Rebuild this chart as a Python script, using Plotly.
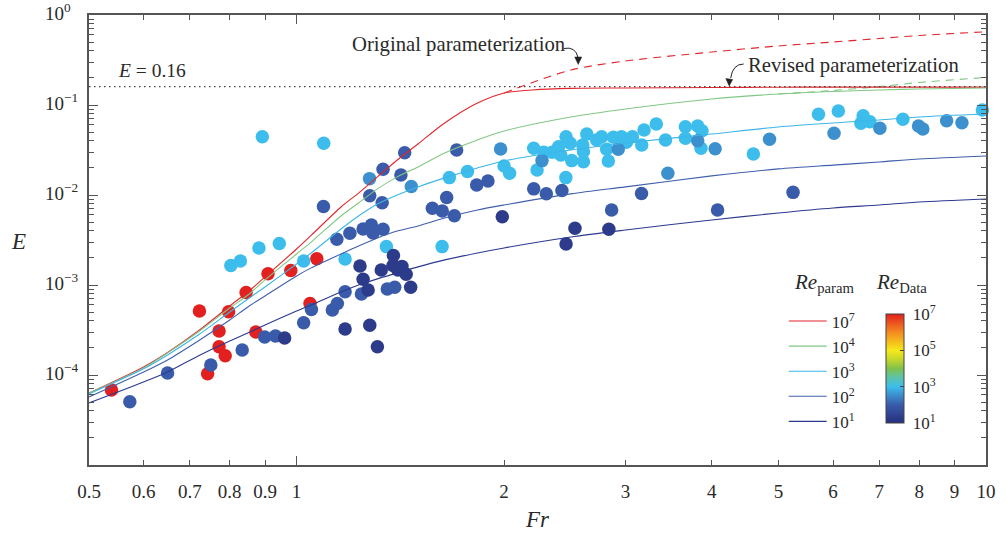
import numpy as np
import plotly.graph_objects as go

# ---------------- data ----------------
# model curves (Re_param)
curve_fr = [0.5, 0.6, 0.65, 0.72, 0.8, 0.85, 0.9, 1.0, 1.05, 1.16, 1.23, 1.31, 1.4, 1.5,
            1.64, 1.83, 2.0, 2.5, 3, 4, 5, 6, 7, 8, 10]
green_E = [6.31e-5, 1.20e-4, 1.76e-4, 3.0e-4, 5.55e-4, 7.74e-4, 1.14e-3, 2.21e-3, 3.0e-3,
           5.85e-3, 8.15e-3, 1.17e-2, 1.59e-2, 2.05e-2, 2.93e-2, 4.09e-2, 5.14e-2, 7.36e-2,
           9.03e-2, 0.1166, 0.1325, 0.1413, 0.1468, 0.1506, 0.1545]
cyan_E = [6.15e-5, 1.17e-4, 1.67e-4, 2.78e-4, 5.01e-4, 6.99e-4, 9.5e-4, 1.71e-3, 2.27e-3,
          4.19e-3, 5.85e-3, 7.94e-3, 1.0e-2, 1.23e-2, 1.55e-2, 2.0e-2, 2.39e-2, 3.16e-2,
          3.78e-2, 4.76e-2, 5.7e-2, 6.31e-2, 6.81e-2, 7.36e-2, 7.94e-2]
blue_E = [5.7e-5, 1.08e-4, 1.47e-4, 2.39e-4, 4.08e-4, 5.7e-4, 7.55e-4, 1.26e-3, 1.55e-3,
          2.21e-3, 2.71e-3, 3.33e-3, 3.98e-3, 4.53e-3, 5.55e-3, 6.81e-3, 7.74e-3, 1.03e-2,
          1.23e-2, 1.63e-2, 1.95e-2, 2.15e-2, 2.33e-2, 2.51e-2, 2.71e-2]
navy_E = [4.89e-5, 8.36e-5, 1.08e-4, 1.63e-4, 2.39e-4, 2.93e-4, 3.59e-4, 5.14e-4, 6.0e-4,
          8.36e-4, 1.0e-3, 1.17e-3, 1.36e-3, 1.59e-3, 1.9e-3, 2.27e-3, 2.58e-3, 3.41e-3,
          4.08e-3, 5.28e-3, 6.31e-3, 7.17e-3, 7.74e-3, 8.36e-3, 9.03e-3]

red_fr = [0.5, 0.6, 0.65, 0.72, 0.8, 0.85, 0.9, 1.0, 1.05, 1.16, 1.23, 1.31, 1.4, 1.5,
          1.64, 1.83, 2.0, 2.2, 2.5, 3, 4, 5, 6, 7, 8, 10]
red_E = [6.31e-5, 1.23e-4, 1.78e-4, 3.08e-4, 5.85e-4, 8.36e-4, 1.23e-3, 2.51e-3, 3.56e-3,
         7.36e-3, 1.05e-2, 1.59e-2, 2.45e-2, 3.69e-2, 6.31e-2, 0.105, 0.136, 0.147, 0.153,
         0.1545, 0.1565, 0.1575, 0.158, 0.158, 0.158, 0.158]

# original (uncapped) parameterization, dashed
red_orig_fr = [2.0, 2.5, 3, 4, 5, 6, 7, 8, 10]
red_orig_E = [0.136, 0.245, 0.308, 0.388, 0.453, 0.501, 0.548, 0.592, 0.652]
green_orig_fr = [5, 6, 7, 8, 10]
green_orig_E = [0.1325, 0.145, 0.16, 0.178, 0.202]

E_cap = 0.16

# experimental data, grouped by log10(Re_Data)
red_pts_fr = [0.539, 0.723, 0.797, 0.772, 0.772, 0.788, 0.743, 0.845, 0.873, 0.909, 0.981, 1.070, 1.046]
red_pts_E = [6.81e-5, 5.14e-4, 5.05e-4, 3.08e-4, 2.06e-4, 1.64e-4, 1.03e-4, 8.26e-4, 3.0e-4,
             1.33e-3, 1.45e-3, 1.96e-3, 6.23e-4]

cyan_pts_fr = [0.803, 0.829, 0.882, 0.944, 0.892, 1.095, 1.024, 1.176, 1.350, 1.626, 1.666, 1.770,
               2.0, 2.037, 2.208, 2.233, 2.283, 2.347, 2.399, 2.417, 2.460, 2.494, 2.507, 2.607,
               2.601, 2.636, 2.607, 2.458, 2.725, 2.770, 2.817, 2.833, 2.881, 2.960, 3.009, 3.070,
               3.167, 3.192, 3.325, 3.429, 3.664, 3.664, 3.818, 3.873, 3.860, 4.598, 5.715, 6.107,
               6.635, 6.585, 6.785, 7.576, 9.88]
cyan_pts_E = [1.65e-3, 1.85e-3, 2.58e-3, 2.89e-3, 0.0445, 0.0375, 1.85e-3, 1.95e-3, 2.67e-3, 2.67e-3,
              0.0156, 0.0182, 0.0210, 0.0174, 0.0330, 0.0190, 0.0298, 0.0298, 0.0344, 0.0278,
              0.0445, 0.0375, 0.0241, 0.0234, 0.0360, 0.0476, 0.0303, 0.0156, 0.0409, 0.0445,
              0.0322, 0.0239, 0.0438, 0.0445, 0.0385, 0.0445, 0.0360, 0.0528, 0.0615, 0.0409,
              0.0574, 0.0427, 0.0585, 0.0518, 0.0330, 0.0286, 0.0788, 0.0858, 0.0760, 0.0626,
              0.0652, 0.0694, 0.0880]

mid_pts_fr = [1.276, 1.467, 1.977, 2.270, 2.928, 3.818, 4.047, 4.853, 3.456, 6.02, 7.016, 7.983,
              8.098, 8.768, 9.228]
mid_pts_E = [0.0152, 0.0124, 0.0325, 0.0241, 0.0322, 0.0401, 0.0327, 0.0416, 0.0174, 0.0485,
             0.0551, 0.0585, 0.0541, 0.0670, 0.0636]

blue_pts_fr = [0.573, 0.650, 0.751, 0.834, 0.899, 0.932, 1.051, 1.024, 1.127, 1.146, 1.094, 1.144,
               1.195, 1.249, 1.284, 1.291, 1.335, 1.277, 1.331, 1.335, 1.417, 1.435, 1.242, 1.176,
               1.354, 1.388, 1.574, 1.627, 1.694, 1.651, 1.707, 1.825, 1.895, 2.208, 2.303, 2.426,
               3.165, 2.864, 4.080, 5.250]
blue_pts_E = [5.05e-5, 1.05e-4, 1.29e-4, 1.90e-4, 2.64e-4, 2.71e-4, 5.34e-4, 3.81e-4, 5.27e-4,
              6.23e-4, 7.45e-3, 3.22e-3, 3.75e-3, 4.19e-3, 4.64e-3, 3.78e-3, 4.17e-3, 9.82e-3,
              8.2e-3, 0.0193, 0.0167, 0.0295, 7.94e-4, 8.43e-4, 9.03e-4, 9.42e-4, 7.11e-3,
              6.64e-3, 5.89e-3, 9.38e-3, 0.0316, 0.0129, 0.0143, 0.0117, 0.0103, 0.0112,
              0.0104, 6.81e-3, 6.81e-3, 0.0107]

navy_pts_fr = [0.961, 1.176, 1.277, 1.310, 1.236, 1.382, 1.327, 1.380, 1.422, 1.403, 1.442, 1.249,
               1.270, 1.464, 1.988, 2.534, 2.838, 2.460]
navy_pts_E = [2.58e-4, 3.24e-4, 3.57e-4, 2.06e-4, 1.63e-3, 2.13e-3, 1.47e-3, 1.65e-3, 1.61e-3,
              1.47e-3, 1.32e-3, 1.16e-3, 8.8e-4, 9.42e-4, 5.74e-3, 4.27e-3, 4.16e-3, 2.86e-3]

# log10(Re_Data) of each group
logRe_groups = [7.0, 3.0, 2.55, 2.0, 1.3]

x_tick_vals = [0.5, 0.6, 0.7, 0.8, 0.9, 1, 2, 3, 4, 5, 6, 7, 8, 9, 10]
x_tick_text = ["0.5", "0.6", "0.7", "0.8", "0.9", "1", "2", "3", "4", "5", "6", "7", "8", "9", "10"]
y_decades = [1e-4, 1e-3, 1e-2, 1e-1, 1]
y_tick_text = ["10<sup>\u22124</sup>", "10<sup>\u22123</sup>", "10<sup>\u22122</sup>",
               "10<sup>\u22121</sup>", "10<sup>0</sup>"]
legend_labels = ["10<sup>7</sup>", "10<sup>4</sup>", "10<sup>3</sup>", "10<sup>2</sup>", "10<sup>1</sup>"]
cbar_vals = [1, 3, 5, 7]
cbar_text = [" 10<sup>1</sup>", " 10<sup>3</sup>", " 10<sup>5</sup>", " 10<sup>7</sup>"]

# ---------------- styling ----------------
FONT = "Liberation Serif, Times New Roman, serif"
TXT = "#2a2a2a"
AX = "#555555"
C_RED = "#E2262C"
C_GREEN = "#80C883"
C_CYAN = "#3CB6E8"
C_BLUE = "#3F5EAC"
C_NAVY = "#2C3990"

jet = [
    [0.0, "#262F7E"],
    [0.1667, "#3A5BAA"],
    [0.25, "#3D8BCB"],
    [0.3333, "#3CBDEC"],
    [0.42, "#5EC3A6"],
    [0.5, "#7EC24A"],
    [0.58, "#C4D62C"],
    [0.6667, "#F6E81A"],
    [0.8333, "#F48A20"],
    [1.0, "#E2201F"],
]

fig = go.Figure()

# data points
pts_fr = red_pts_fr + cyan_pts_fr + mid_pts_fr + blue_pts_fr + navy_pts_fr
pts_E = red_pts_E + cyan_pts_E + mid_pts_E + blue_pts_E + navy_pts_E
pts_c = ([logRe_groups[0]] * len(red_pts_fr) + [logRe_groups[1]] * len(cyan_pts_fr)
         + [logRe_groups[2]] * len(mid_pts_fr) + [logRe_groups[3]] * len(blue_pts_fr)
         + [logRe_groups[4]] * len(navy_pts_fr))
fig.add_trace(go.Scatter(
    x=pts_fr, y=pts_E, mode="markers", showlegend=False, cliponaxis=False,
    marker=dict(size=13.5, color=pts_c, coloraxis="coloraxis", line=dict(width=0)),
))

# dashed original parameterization
fig.add_trace(go.Scatter(x=red_orig_fr, y=red_orig_E, mode="lines", showlegend=False,
                         line=dict(color=C_RED, width=1.1, dash="8px,6px", shape="spline", smoothing=0.8)))
fig.add_trace(go.Scatter(x=green_orig_fr, y=green_orig_E, mode="lines", showlegend=False,
                         line=dict(color=C_GREEN, width=1.1, dash="8px,6px", shape="spline", smoothing=0.8)))

# revised parameterization curves
curves = [
    (red_fr, red_E, C_RED, legend_labels[0]),
    (curve_fr, green_E, C_GREEN, legend_labels[1]),
    (curve_fr, cyan_E, C_CYAN, legend_labels[2]),
    (curve_fr, blue_E, C_BLUE, legend_labels[3]),
    (curve_fr, navy_E, C_NAVY, legend_labels[4]),
]
for fr, e, col, lab in curves:
    fig.add_trace(go.Scatter(x=fr, y=e, mode="lines", name=lab,
                             line=dict(color=col, width=1.1, shape="spline", smoothing=0.8)))

# E = 0.16 dotted line (on overlay axis carrying the long major ticks)
fig.add_trace(go.Scatter(x=[x_tick_vals[0], x_tick_vals[-1]], y=[E_cap, E_cap], mode="lines",
                         xaxis="x2", showlegend=False,
                         line=dict(color="#444444", width=1.3, dash="1.5px,3.5px")))

xrange = [np.log10(x_tick_vals[0]), np.log10(x_tick_vals[-1])]
tickfont = dict(family=FONT, size=19, color=TXT)

annotations = []
# y tick labels, left aligned
for v, t in zip(y_decades, y_tick_text):
    annotations.append(dict(text=t, xref="paper", yref="y", x=-0.051, y=np.log10(v),
                            xanchor="left", yanchor="middle", showarrow=False, yshift=3,
                            font=dict(family=FONT, size=19, color=TXT)))
# axis titles
annotations.append(dict(text="<i>Fr</i>", xref="paper", yref="paper", x=0.5, y=-0.122,
                        xanchor="center", yanchor="middle", showarrow=False,
                        font=dict(family=FONT, size=23, color=TXT)))
annotations.append(dict(text="<i>E</i>", xref="paper", yref="paper", x=-0.079, y=0.496,
                        xanchor="center", yanchor="middle", showarrow=False,
                        font=dict(family=FONT, size=23, color=TXT)))
# labels
annotations.append(dict(text="<i>E</i> = 0.16", xref="paper", yref="paper", x=0.030, y=0.876,
                        xanchor="left", yanchor="middle", showarrow=False,
                        font=dict(family=FONT, size=19.5, color=TXT)))
annotations.append(dict(text="Original parameterization", xref="paper", yref="paper", x=0.2913, y=0.935,
                        xanchor="left", yanchor="middle", showarrow=False,
                        font=dict(family=FONT, size=20.7, color=TXT)))
annotations.append(dict(text="Revised parameterization", xref="paper", yref="paper", x=0.732, y=0.8867,
                        xanchor="left", yanchor="middle", showarrow=False,
                        font=dict(family=FONT, size=20.7, color=TXT)))
# legend and colorbar titles
annotations.append(dict(text="<i>Re</i><sub>param</sub>", xref="paper", yref="paper", x=0.784, y=0.405,
                        xanchor="left", yanchor="middle", showarrow=False,
                        font=dict(family=FONT, size=21, color=TXT)))
annotations.append(dict(text="<i>Re</i><sub>Data</sub>", xref="paper", yref="paper", x=0.906, y=0.405,
                        xanchor="center", yanchor="middle", showarrow=False,
                        font=dict(family=FONT, size=21, color=TXT)))

ARROW = "#222222"
shapes = [
    # curved arrow: Original parameterization
    dict(type="path", xref="paper", yref="paper",
         path="M 0.5293 0.9256 Q 0.5425 0.9311 0.5454 0.9044",
         line=dict(color=ARROW, width=1)),
    dict(type="path", xref="paper", yref="paper",
         path="M 0.5454 0.8900 L 0.5415 0.9067 L 0.5493 0.9067 Z",
         fillcolor=ARROW, line=dict(color=ARROW, width=0.5)),
    # curved arrow: Revised parameterization
    dict(type="path", xref="paper", yref="paper",
         path="M 0.7298 0.8911 Q 0.7176 0.8911 0.7154 0.8600",
         line=dict(color=ARROW, width=1)),
    dict(type="path", xref="paper", yref="paper",
         path="M 0.7137 0.8422 L 0.7099 0.8589 L 0.7176 0.8567 Z",
         fillcolor=ARROW, line=dict(color=ARROW, width=0.5)),
]

fig.update_layout(
    width=1008, height=533,
    margin=dict(l=89, r=16, t=15, b=68),
    paper_bgcolor="white", plot_bgcolor="white",
    font=dict(family=FONT, color=TXT),
    xaxis=dict(type="log", range=xrange, showgrid=False, zeroline=False,
               showline=True, linecolor=AX, linewidth=1.5, mirror="ticks",
               ticks="inside", ticklen=5, tickwidth=1, tickcolor=AX,
               tickmode="array", tickvals=x_tick_vals, ticktext=x_tick_text,
               tickfont=tickfont, ticklabelstandoff=8),
    xaxis2=dict(type="log", range=xrange, overlaying="x", anchor="y", side="bottom",
                showgrid=False, zeroline=False, showline=False, mirror="ticks",
                ticks="inside", ticklen=9, tickwidth=1, tickcolor=AX,
                tickmode="array", tickvals=[1, 10], showticklabels=False),
    yaxis=dict(type="log", range=[-5, 0], showgrid=False, zeroline=False,
               showline=True, linecolor=AX, linewidth=1.5, mirror="ticks",
               ticks="inside", ticklen=9, tickwidth=1, tickcolor=AX,
               tickmode="array", tickvals=y_decades, showticklabels=False,
               minor=dict(ticks="inside", ticklen=5, tickwidth=1, tickcolor=AX,
                          tickmode="array",
                          tickvals=[m * 10.0 ** k for k in range(-5, 0) for m in range(2, 10)])),
    coloraxis=dict(colorscale=jet, cmin=1, cmax=7,
                   colorbar=dict(x=0.889, xanchor="left", y=0.2144, yanchor="middle",
                                 len=0.242, lenmode="fraction", thickness=18, thicknessmode="pixels",
                                 outlinewidth=1, outlinecolor="#444", xpad=0, ypad=0,
                                 tickmode="array", tickvals=cbar_vals, ticktext=cbar_text,
                                 ticks="inside", ticklen=4, tickcolor="#444",
                                 tickfont=dict(family=FONT, size=17, color=TXT))),
    legend=dict(x=0.7745, y=0.359, xanchor="left", yanchor="top", bgcolor="rgba(0,0,0,0)",
                font=dict(family=FONT, size=17, color=TXT), itemwidth=38,
                tracegroupgap=0),
    annotations=annotations,
    shapes=shapes,
)

fig.write_html("out.html", config={"displayModeBar": False},
               post_script="document.body.style.margin='0';document.body.style.overflow='hidden';")
